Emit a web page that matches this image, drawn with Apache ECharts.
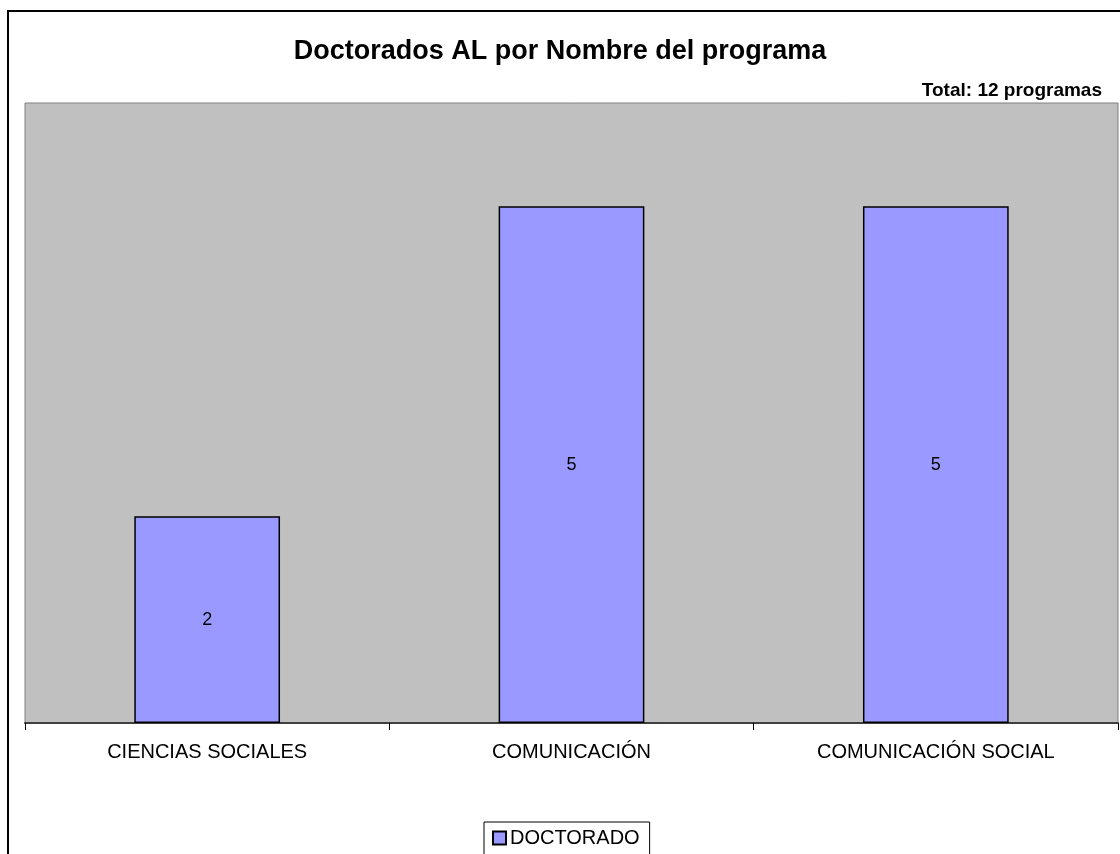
<!DOCTYPE html>
<html>
<head>
<meta charset="utf-8">
<script src="https://cdn.jsdelivr.net/npm/echarts@6/dist/echarts.min.js"></script>
<style>
  html, body { margin: 0; padding: 0; background: #fff; }
  #chart { width: 1120px; height: 854px; }
</style>
</head>
<body>
<div id="chart"></div>
<script>
var categories = ['CIENCIAS SOCIALES', 'COMUNICACIÓN', 'COMUNICACIÓN SOCIAL'];
var doctorado = [2, 5, 5];
var seriesName = 'DOCTORADO';
var titleText = 'Doctorados AL por Nombre del programa';
var totalText = 'Total: 12 programas';

var myChart = echarts.init(document.getElementById('chart'));
var option = {
  animation: false,
  textStyle: { fontFamily: 'Liberation Sans, Arial, sans-serif' },
  title: [
    {
      text: titleText,
      left: 'center',
      top: 33,
      textStyle: { fontSize: 27, fontWeight: 'bold', color: '#000' }
    },
    {
      text: totalText,
      right: 13,
      top: 76,
      textStyle: { fontSize: 19, fontWeight: 'bold', color: '#000' }
    }
  ],
  graphic: [
    { // marco exterior
      type: 'rect',
      shape: { x: 8, y: 11, width: 1130, height: 900 },
      style: { fill: 'none', stroke: '#000', lineWidth: 2 },
      silent: true
    }
  ],
  legend: {
    data: [seriesName],
    icon: 'rect',
    left: 484,
    top: 822,
    itemWidth: 13,
    itemHeight: 13,
    itemGap: 4,
    padding: [6, 10, 8, 8],
    borderColor: '#000',
    borderWidth: 1,
    backgroundColor: '#fff',
    textStyle: { fontSize: 20, color: '#000', padding: [0, 0, 0, -1] }
  },
  grid: {
    left: 25,
    top: 103,
    right: 2,
    bottom: 131,
    show: true,
    backgroundColor: '#C0C0C0',
    borderColor: '#808080',
    borderWidth: 1
  },
  xAxis: {
    type: 'category',
    data: categories,
    axisLine: { lineStyle: { color: '#404040', width: 2 } },
    axisTick: { show: true, length: 7, lineStyle: { color: '#000', width: 1 } },
    axisLabel: { fontSize: 20, color: '#000', margin: 19 }
  },
  yAxis: {
    type: 'value',
    min: 0,
    max: 6,
    show: false,
    splitLine: { show: false }
  },
  series: [
    {
      name: seriesName,
      type: 'bar',
      data: doctorado,
      barWidth: '40%',
      itemStyle: { color: '#9999FF', borderColor: '#000', borderWidth: 1.5 },
      label: { show: true, position: 'inside', fontSize: 18, color: '#000' }
    }
  ]
};
myChart.setOption(option);
</script>
</body>
</html>
